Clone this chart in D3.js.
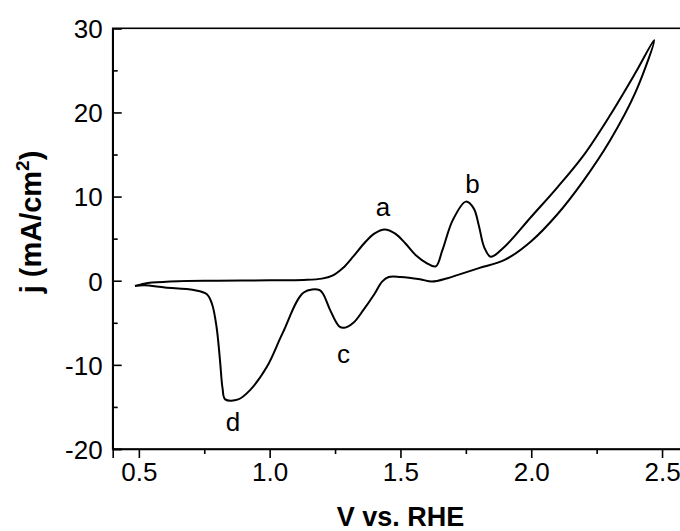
<!DOCTYPE html>
<html><head><meta charset="utf-8">
<script src="https://cdn.jsdelivr.net/npm/d3@7"></script>
<style>html,body{margin:0;padding:0;background:#fff;overflow:hidden}</style>
</head><body>
<svg id="c" width="680" height="531"></svg>
<script>
// Anodic (forward) sweep
const fwdV = [0.485,0.52,0.55,0.65,0.8,1.0,1.13,1.2,1.24,1.28,1.32,1.36,1.40,1.44,1.48,1.52,1.56,1.60,1.635,1.66,1.70,1.75,1.78,1.80,1.82,1.845,1.90,2.00,2.10,2.20,2.30,2.40,2.47];
const fwdJ = [-0.63,-0.35,-0.22,-0.05,0,0.05,0.1,0.25,0.6,1.5,2.9,4.4,5.6,6.1,5.6,4.4,3.0,2.1,1.7,3.6,7.2,9.4,8.6,6.5,4.0,2.85,4.1,7.6,11.1,14.9,19.6,24.8,28.6];
// Cathodic (reverse) sweep
const revV = [2.40,2.30,2.20,2.10,2.00,1.90,1.80,1.72,1.68,1.62,1.575,1.50,1.455,1.43,1.40,1.36,1.32,1.285,1.265,1.23,1.205,1.19,1.13,1.05,0.99,0.925,0.88,0.83,0.82,0.81,0.797,0.78,0.76,0.71,0.60,0.52,0.485];
const revJ = [22.5,16.6,11.9,7.9,4.7,2.5,1.5,0.7,0.3,-0.1,0.17,0.45,0.45,-0.1,-1.6,-3.4,-5.0,-5.6,-5.4,-3.4,-1.6,-1.1,-1.4,-6.2,-10.2,-13.0,-14.1,-14.1,-12.8,-9.4,-5.5,-2.8,-1.6,-1.1,-0.8,-0.55,-0.63];
const xTicks = [0.5,1.0,1.5,2.0,2.5];
const xTickLabels = ["0.5","1.0","1.5","2.0","2.5"];
const xMinor = [0.75,1.25,1.75,2.25];
const yTicks = [-20,-10,0,10,20,30];
const yTickLabels = ["-20","-10","0","10","20","30"];
const yMinor = [-15,-5,5,15,25];
const peakLabels = ["a","b","c","d"];
const peakV = [1.433,1.775,1.282,0.86];
const peakJ = [8.5,11.3,-9.0,-17.0];

const svg = d3.select("#c");
const x = d3.scaleLinear().domain([0.4,2.6]).range([112.7,688.2]);
const y = d3.scaleLinear().domain([-20,30]).range([449,28.3]);
const font = "'Liberation Sans', Arial, sans-serif";

// frame
svg.append("rect").attr("x",x(0.4)).attr("y",y(30)).attr("width",x(2.6)-x(0.4)).attr("height",y(-20)-y(30))
  .attr("fill","none").attr("stroke","#000").attr("stroke-width",1.6);

// x axis
const xa = svg.append("g").attr("transform",`translate(0,${y(-20)})`)
  .call(d3.axisBottom(x).tickValues(xTicks).tickFormat((d,i)=>xTickLabels[i]).tickSize(9).tickPadding(5));
svg.append("g").attr("transform",`translate(0,${y(-20)})`)
  .call(d3.axisBottom(x).tickValues(xMinor).tickFormat("").tickSize(5))
  .call(g=>g.select(".domain").remove());
// y axis (inward ticks)
const ya = svg.append("g").attr("transform",`translate(${x(0.4)},0)`)
  .call(d3.axisRight(y).tickValues(yTicks).tickSize(9).tickFormat((d,i)=>yTickLabels[i]));
ya.selectAll("text").attr("x",-10).attr("text-anchor","end");
svg.append("g").attr("transform",`translate(${x(0.4)},0)`)
  .call(d3.axisRight(y).tickValues(yMinor).tickFormat("").tickSize(5))
  .call(g=>g.select(".domain").remove());
svg.selectAll(".domain").attr("stroke-width",1.6);
svg.selectAll(".tick line").attr("stroke-width",1.6);
svg.selectAll(".tick text").attr("font-family",font).attr("font-size",26).attr("fill","#000");
ya.selectAll("text").attr("dy","0.36em");

// curve
const pts = fwdV.map((v,i)=>[v,fwdJ[i]]).concat(revV.map((v,i)=>[v,revJ[i]]));
svg.append("path").datum(pts)
  .attr("d", d3.line().x(d=>x(d[0])).y(d=>y(d[1])).curve(d3.curveCatmullRom.alpha(0.5)))
  .attr("fill","none").attr("stroke","#000").attr("stroke-width",2);

// peak labels
svg.selectAll(".pk").data(peakLabels).enter().append("text")
  .attr("x",(d,i)=>x(peakV[i])).attr("y",(d,i)=>y(peakJ[i]))
  .attr("text-anchor","middle").attr("dominant-baseline","middle")
  .attr("font-family",font).attr("font-size",26).text(d=>d);

// axis titles
svg.append("text").attr("x",x(1.5)).attr("y",526).attr("text-anchor","middle")
  .attr("font-family",font).attr("font-size",27).attr("font-weight","bold").text("V vs. RHE");
const yt = svg.append("text").attr("transform",`translate(41,222) rotate(-90)`).attr("text-anchor","middle")
  .attr("font-family",font).attr("font-size",29).attr("font-weight","bold");
yt.append("tspan").text("j (mA/cm");
yt.append("tspan").attr("font-size",19).attr("dy",-12).text("2");
yt.append("tspan").attr("dy",12).text(")");
</script>
</body></html>
